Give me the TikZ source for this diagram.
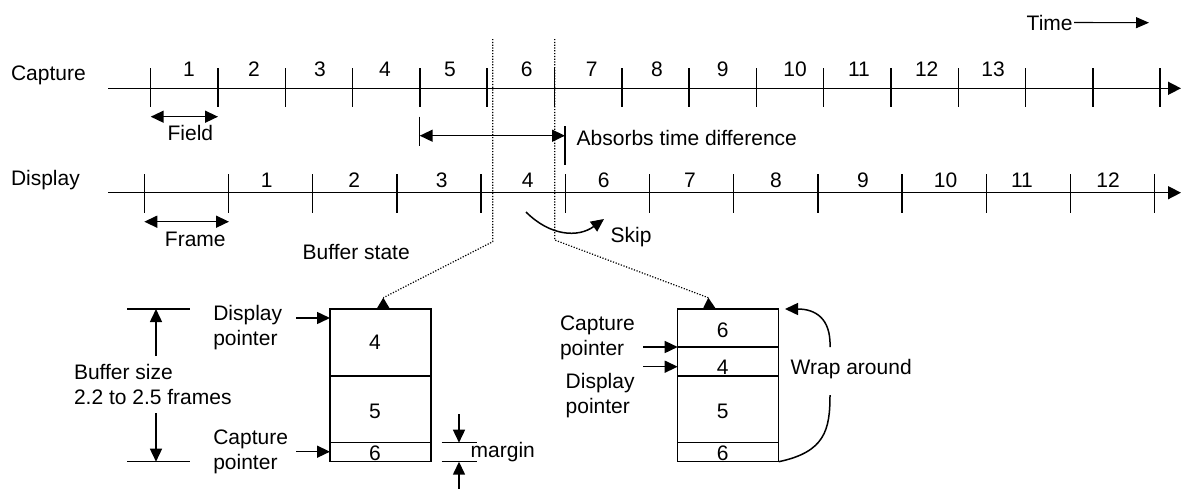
\documentclass[tikz,border=0pt]{standalone}
\usepackage{fontspec}
\setmainfont{Liberation Sans}
\usetikzlibrary{arrows.meta}
\begin{document}
\begin{tikzpicture}[x=1pt,y=-1pt,
  lbl/.style={font=\fontsize{21}{25}\selectfont, inner sep=0pt, outer sep=0pt},
  ln/.style={line width=1.5pt},
  axis/.style={ln, -{Triangle[length=13pt,width=13pt]}},
  dim/.style={ln, {Triangle[length=13pt,width=12pt]}-{Triangle[length=13pt,width=12pt]}},
  arr/.style={ln, -{Triangle[length=13pt,width=12pt]}},
  guide/.style={line width=1.2pt, dash pattern=on 1.2pt off 1.6pt},
  cell/.style={draw, ln, minimum width=101pt, inner sep=0pt, outer sep=0pt, anchor=north west},
]
\useasboundingbox (0,0) rectangle (1181,488);

% ---------- Time ----------
\node[lbl, anchor=base west] (time) at (1026.7,30) {Time};
\coordinate (timeend) at (1149,22.7);
\draw[line width=1.1pt, -{Triangle[length=13pt,width=11pt]}] ([xshift=1.5pt]time.east) -- (timeend);

% ---------- Capture row ----------
\node[lbl, anchor=base west] (caplbl) at (11,80) {Capture};
\coordinate (caxs) at (108,88.3);
\coordinate (caxe) at (1181,88.3);
\draw[axis] (caxs) -- (caxe);
\foreach \k in {0,...,15} \draw[ln] ({150.7+67.3*\k},68) -- ({150.7+67.3*\k},107);
\foreach \n/\x in {1/189,2/254,3/320,4/385,5/450,6/526.7,7/591.7,8/657,9/722.7,10/795,11/859,12/926.7,13/993}
  \node[lbl, anchor=base] (c\n) at (\x,76.7) {\n};

\coordinate (f1) at (150.7,116.7);
\coordinate (f2) at (218,116.7);
\draw[dim] (f1) -- (f2);
\node[lbl, anchor=base] (field) at (190.4,140.7) {Field};

% absorbs time difference
\coordinate (abl1) at (419.7,116.7);
\coordinate (abl2) at (419.7,145.7);
\coordinate (abr1) at (565,126);
\coordinate (abr2) at (565,165);
\draw[ln] (abl1) -- (abl2);
\draw[ln] (abr1) -- (abr2);
\coordinate (aba) at (419.7,135.7);
\coordinate (abb) at (565,135.7);
\draw[dim] (aba) -- (abb);
\node[lbl, anchor=base west] (absorb) at (576.7,145) {Absorbs time difference};

% ---------- Display row ----------
\node[lbl, anchor=base west] (displbl) at (11,185) {Display};
\coordinate (daxs) at (108,192.7);
\coordinate (daxe) at (1181,192.7);
\draw[axis] (daxs) -- (daxe);
\foreach \k in {0,...,12} \draw[ln] ({144.3+84.2*\k},174) -- ({144.3+84.2*\k},212.7);
\foreach \n/\x in {1/266.7,2/354.3,3/441.7,4/527.7,6/603.7,7/690,8/776,9/863,10/945.5,11/1022,12/1108}
  \node[lbl, anchor=base] (d\n) at (\x,187) {\n};

\coordinate (fr1) at (144.3,221.7);
\coordinate (fr2) at (229,221.7);
\draw[dim] (fr1) -- (fr2);
\node[lbl, anchor=base] (frame) at (195.3,246.7) {Frame};

% skip
\coordinate (sk1) at (526,212);
\coordinate (sk2) at (604,219);
\draw[arr] (sk1) .. controls (550,236) and (578,238) .. (sk2);
\node[lbl, anchor=base west] (skip) at (610.6,242) {Skip};

\node[lbl, anchor=base west] (bufstate) at (302.7,259) {Buffer state};

% ---------- Buffer 1 ----------
\node[cell, minimum height=67pt] (b1a) at (330,309) {};
\node[cell, minimum height=66.7pt] (b1b) at (330,376) {};
\node[cell, minimum height=19pt] (b1c) at (330,442.7) {};
\node[lbl] (t1a) at (375,342) {4};
\node[lbl] (t1b) at (375,411.5) {5};
\node[lbl, anchor=base] (t1c) at (375,460.5) {6};

% ---------- Buffer 2 ----------
\node[cell, minimum height=38pt] (b2a) at (677.7,309) {};
\node[cell, minimum height=29pt] (b2b) at (677.7,347) {};
\node[cell, minimum height=66.7pt] (b2c) at (677.7,376) {};
\node[cell, minimum height=19pt] (b2d) at (677.7,442.7) {};
\node[lbl] (t2a) at (722.7,330) {6};
\node[lbl, anchor=base] (t2b) at (722.7,374.5) {4};
\node[lbl] (t2c) at (722.7,411.5) {5};
\node[lbl, anchor=base] (t2d) at (722.7,460.5) {6};

% ---------- dotted guides ----------
\coordinate (g1a) at (492.7,39);
\coordinate (g1b) at (492.7,241.7);
\coordinate (g1c) at (383.3,297.7);
\draw[guide] (g1a) -- (g1b) -- (g1c);
\fill (g1c) -- (376.5,309) -- (390,309) -- cycle;
\coordinate (g2a) at (554.7,39);
\coordinate (g2b) at (554.7,240);
\coordinate (g2c) at (708.3,297.7);
\draw[guide] (g2a) -- (g2b) -- (g2c);
\fill (g2c) -- (703,308.5) -- (716,309) -- cycle;

% ---------- pointers, buffer 1 ----------
\node[lbl, align=left, anchor=north west] (dp1) at (213.3,305) {Display\\pointer};
\coordinate (dp1s) at (296,318);
\draw[arr] (dp1s) -- (dp1s -| b1a.west);
\node[lbl, align=left, anchor=north west] (cp1) at (213.3,430) {Capture\\pointer};
\coordinate (cp1s) at (296,451.7);
\draw[arr] (cp1s) -- (cp1s -| b1c.west);

% buffer size
\coordinate (bs1a) at (127.3,309);
\coordinate (bs1b) at (190,309);
\coordinate (bs2a) at (127.3,461.7);
\coordinate (bs2b) at (190,461.7);
\draw[ln] (bs1a) -- (bs1b);
\draw[ln] (bs2a) -- (bs2b);
\coordinate (bsu) at (156,356);
\coordinate (bsd) at (156,413.3);
\draw[arr] (bsu) -- (bsu |- bs1a);
\draw[arr] (bsd) -- (bsd |- bs2a);
\node[lbl, align=left, anchor=north west] (bsize) at (74,364) {Buffer size\\2.2 to 2.5 frames};

% margin
\coordinate (m1a) at (441.7,442.7);
\coordinate (m1b) at (476.7,442.7);
\coordinate (m2a) at (441.7,461.7);
\coordinate (m2b) at (476.7,461.7);
\draw[ln] (m1a) -- (m1b);
\draw[ln] (m2a) -- (m2b);
\coordinate (mdt) at (459,414);
\coordinate (mub) at (459,489);
\draw[arr] (mdt) -- (mdt |- m1a);
\draw[arr] (mub) -- (mub |- m2a);
\node[lbl, anchor=base west] (margin) at (470.7,457) {margin};

% ---------- pointers, buffer 2 ----------
\node[lbl, align=left, anchor=north west] (cp2) at (560,316) {Capture\\pointer};
\coordinate (cp2s) at (643.3,347);
\draw[arr] (cp2s) -- (cp2s -| b2b.west);
\coordinate (dp2s) at (643.3,366.7);
\draw[arr] (dp2s) -- (dp2s -| b2b.west);
\node[lbl, align=left, anchor=north west] (dp2) at (565.7,373) {Display\\pointer};

% wrap around
\coordinate (w1) at (830,395);
\coordinate (w2) at (830,347);
\coordinate (w3) at (785,309);
\draw[ln] (b2d.south east) .. controls (825,452) and (830,430) .. (w1);
\draw[arr] (w2) .. controls (831,318) and (815,309) .. (w3);
\node[lbl, anchor=base west] (wrap) at (790.7,374) {Wrap around};
\end{tikzpicture}
\end{document}
